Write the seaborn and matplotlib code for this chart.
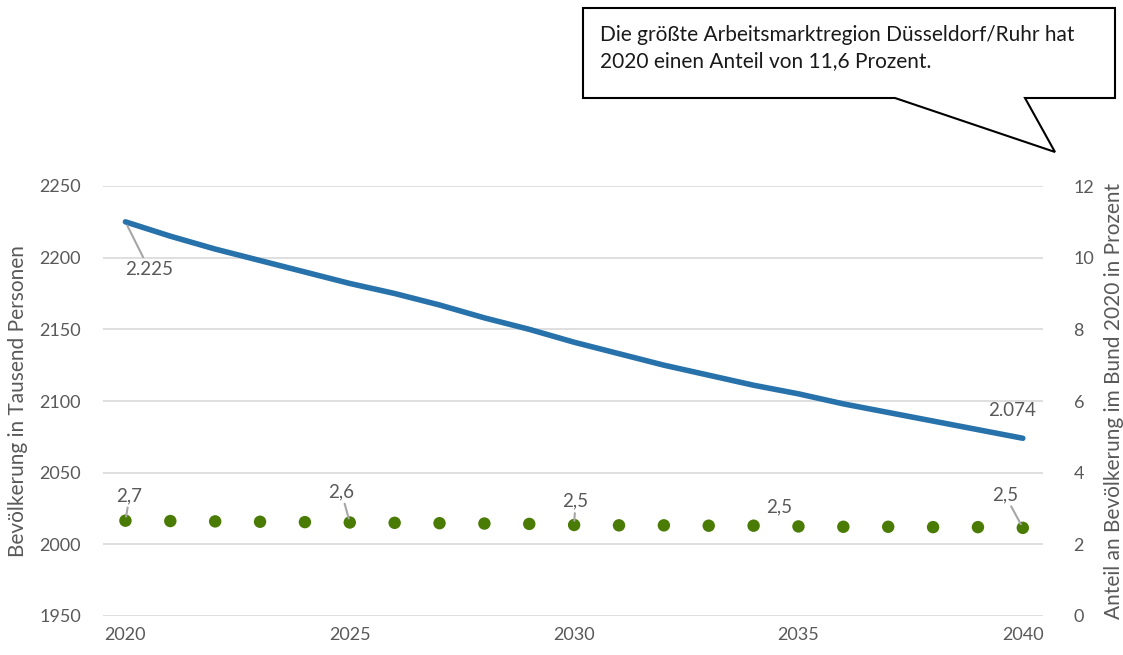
import numpy as np
import pandas as pd
import matplotlib
matplotlib.use("Agg")
import matplotlib.pyplot as plt
from matplotlib.patches import Polygon
import seaborn as sns

years = list(range(2020, 2041))
population = [2225, 2215, 2206, 2198, 2190, 2182, 2175, 2167, 2158, 2150, 2141,
              2133, 2125, 2118, 2111, 2105, 2098, 2092, 2086, 2080, 2074]
share = [2.66, 2.65, 2.64, 2.63, 2.62, 2.61, 2.60, 2.59, 2.58, 2.57, 2.54,
         2.53, 2.53, 2.52, 2.52, 2.50, 2.49, 2.49, 2.48, 2.48, 2.46]
left_ticks = [1950, 2000, 2050, 2100, 2150, 2200, 2250]
right_ticks = [0, 2, 4, 6, 8, 10, 12]
x_ticks = [2020, 2025, 2030, 2035, 2040]
left_label = "Bevölkerung in Tausend Personen"
right_label = "Anteil an Bevölkerung im Bund 2020 in Prozent"
callout_text = "Die größte Arbeitsmarktregion Düsseldorf/Ruhr hat\n2020 einen Anteil von 11,6 Prozent."

df = pd.DataFrame({"Jahr": years, "Bevoelkerung": population, "Anteil": share})

sns.set_theme(style="white")
plt.rcParams["font.family"] = ["Lato", "DejaVu Sans"]

W, H = 1123, 655
fig = plt.figure(figsize=(W / 100, H / 100), dpi=100)
ax = fig.add_axes([103 / W, 1 - 616 / H, (1043 - 103) / W, (616 - 186) / H])
ax2 = ax.twinx()

txt = "#595959"
grid = "#d9d9d9"
blue = "#2872ab"
green = "#4a7c05"

for y in left_ticks:
    ax.axhline(y, color=grid, lw=1.2, zorder=0)

sns.lineplot(data=df, x="Jahr", y="Bevoelkerung", ax=ax, color=blue, lw=4,
             solid_capstyle="round", zorder=3)
sns.scatterplot(data=df, x="Jahr", y="Anteil", ax=ax2, color=green, s=80,
                edgecolor="none", zorder=3)

ax.set_xlim(2019.5, 2040.45)
ax.set_ylim(1950, 2250)
ax2.set_ylim(0, 12)
ax.set_yticks(left_ticks)
ax2.set_yticks(right_ticks)
ax.set_xticks(x_ticks)
for a in (ax, ax2):
    for s in a.spines.values():
        s.set_visible(False)
    a.tick_params(length=0, labelsize=13, labelcolor=txt)
ax.tick_params(axis="y", pad=16)
ax2.tick_params(axis="y", pad=22)
ax.tick_params(axis="x", pad=8)
ax.set_xlabel("")
ax.set_ylabel(left_label, fontsize=15, color=txt, labelpad=8)
ax2.set_ylabel(right_label, fontsize=15, color=txt, labelpad=7)

def fmt_pop(v):
    return f"{v:,.0f}".replace(",", ".")

def fmt_share(v):
    return f"{v:.1f}".replace(".", ",")

lead = dict(arrowstyle="-", color="#a6a6a6", lw=1.5, shrinkA=0, shrinkB=3)
# population labels
ax.annotate(fmt_pop(population[0]), xy=(years[0], population[0]), xytext=(17, -34),
            textcoords="offset points", fontsize=13.5, color=txt, ha="center", va="center",
            arrowprops=lead)
ax.annotate(fmt_pop(population[-1]), xy=(years[-1], population[-1]), xytext=(-8, 20),
            textcoords="offset points", fontsize=13.5, color=txt, ha="center", va="center")
# share labels
share_lbl = [(0, (3, 18), True), (5, (-6, 22), True), (10, (1, 17), True),
             (15, (-14, 14), False), (20, (-13, 24), True)]
for i, off, leader in share_lbl:
    ax2.annotate(fmt_share(share[i]), xy=(years[i], share[i]), xytext=off,
                 textcoords="offset points", fontsize=13.5, color=txt, ha="center",
                 va="center", arrowprops=lead if leader else None, zorder=4)

# callout box
pts = [(583, 8), (1115, 8), (1115, 98), (1025, 98), (1055, 152), (895, 98), (583, 98)]
poly = Polygon([(x / W, 1 - y / H) for x, y in pts], closed=True, transform=fig.transFigure,
               facecolor="white", edgecolor="black", lw=1.5)
fig.patches.append(poly)
fig.text(600 / W, 1 - 48 / H, callout_text, fontsize=15, color="#1a1a1a",
         ha="left", va="center", linespacing=1.4)

fig.savefig("out.png", dpi=100, facecolor="white")
